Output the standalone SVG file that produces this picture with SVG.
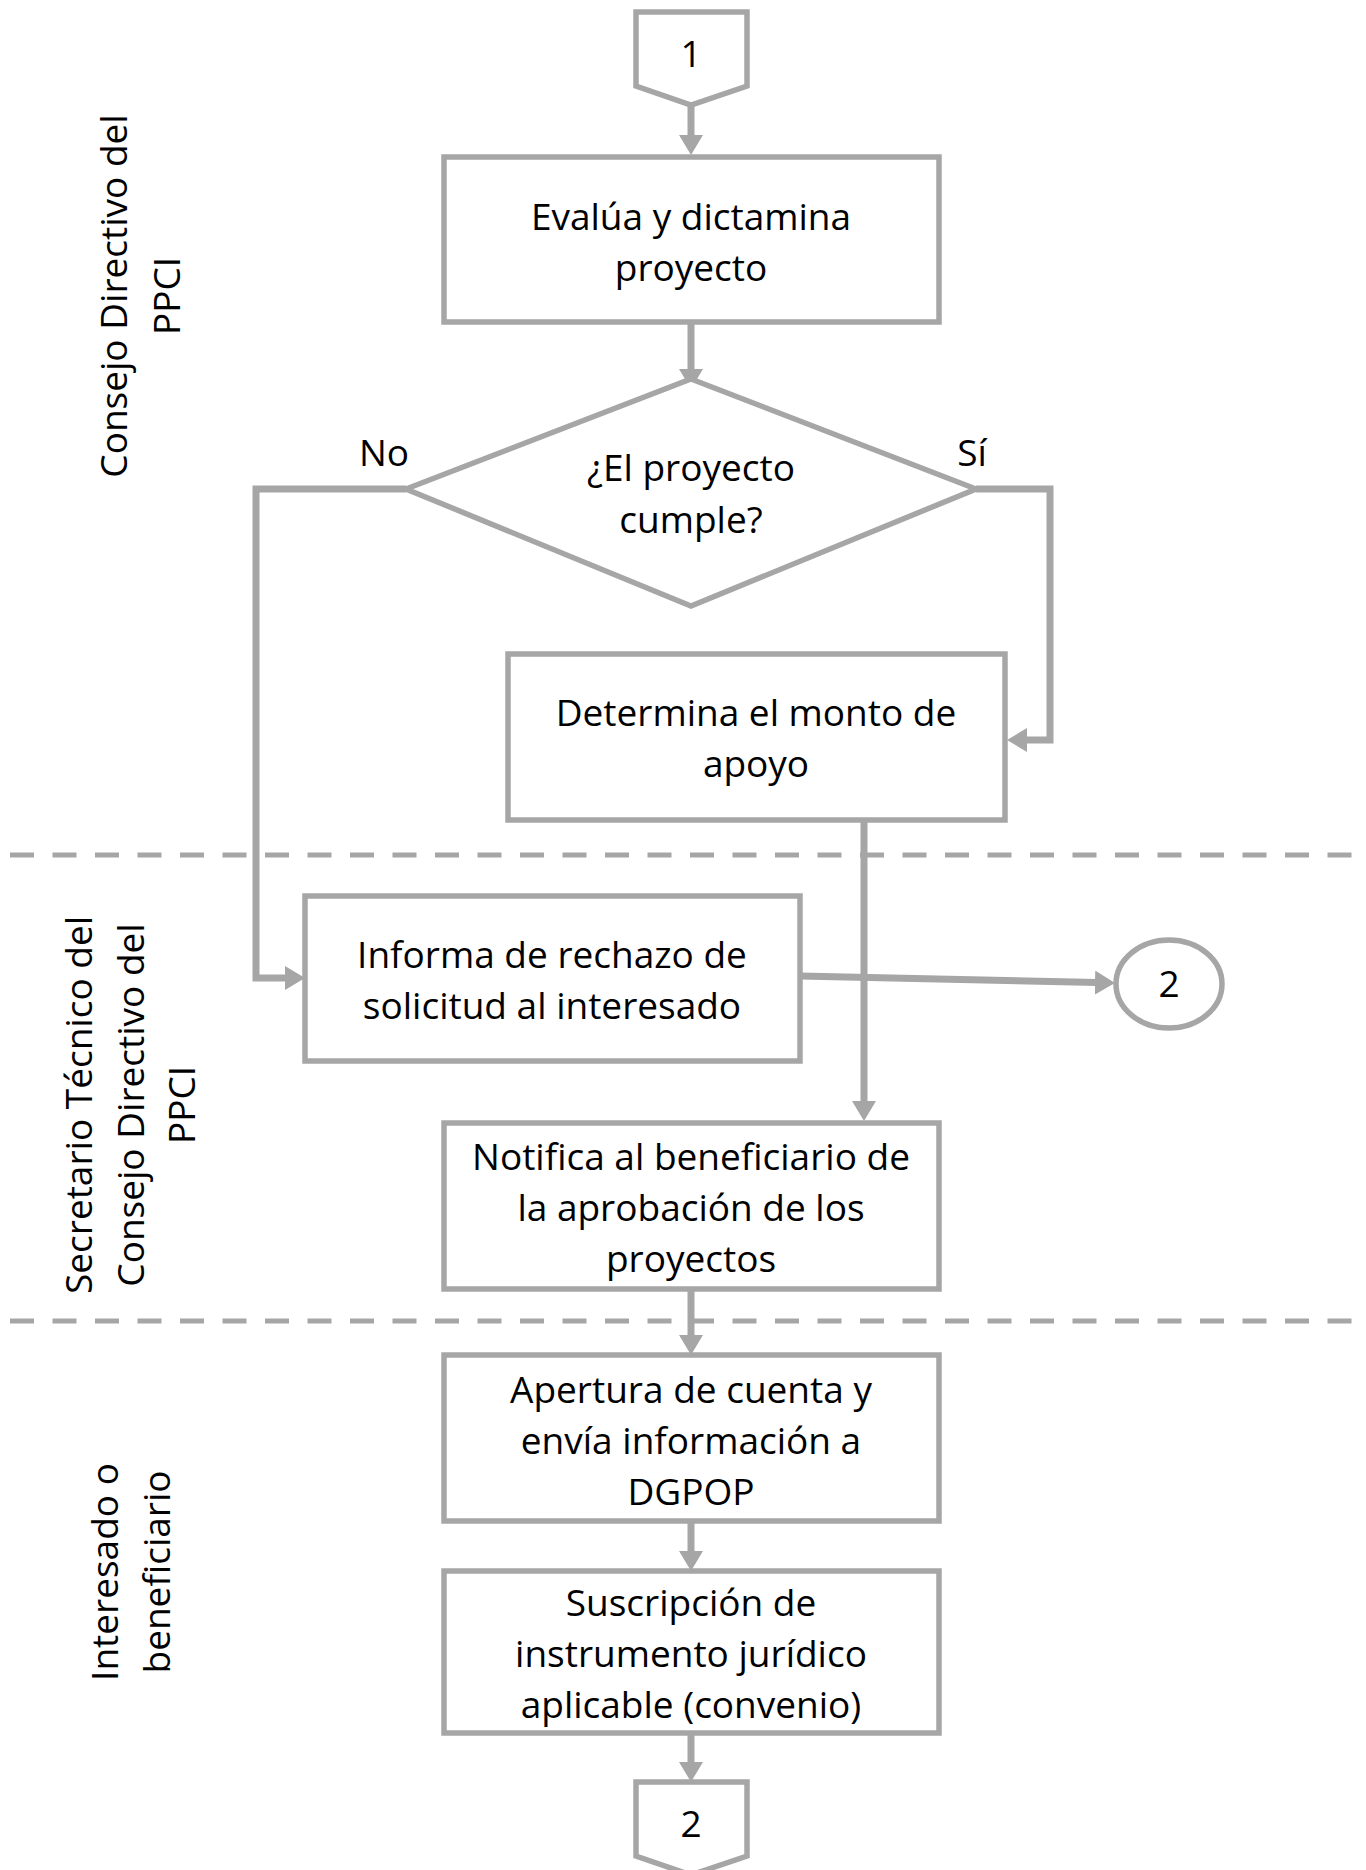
<svg xmlns="http://www.w3.org/2000/svg" width="1366" height="1870" viewBox="0 0 1366 1870">
<style>
.box{fill:#fff;stroke:#a6a6a6;stroke-width:5.5}
.con{fill:none;stroke:#a6a6a6;stroke-width:7;marker-end:url(#arr)}
.lane{fill:none;stroke:#a6a6a6;stroke-width:5;stroke-dasharray:24 18.5}
text{font-family:"Open Sans","Liberation Sans",sans-serif;font-size:37px;fill:#000;text-anchor:middle}
</style>
<defs>
<marker id="arr" markerUnits="userSpaceOnUse" markerWidth="22" markerHeight="24" refX="2" refY="12" orient="auto">
<path d="M0,0 L20,12 L0,24 z" fill="#a6a6a6"/>
</marker>
</defs>
<rect width="1366" height="1870" fill="#fff"/>
<g id="lanes">
<line class="lane" x1="10" y1="855" x2="1356" y2="855"/>
<line class="lane" x1="10" y1="1321" x2="1356" y2="1321"/>
<text transform="translate(127,296) rotate(-90)">Consejo Directivo del<tspan x="0" dy="53">PPCI</tspan></text>
<text transform="translate(92,1105) rotate(-90)">Secretario Técnico del<tspan x="0" dy="51.5">Consejo Directivo del</tspan><tspan x="0" dy="51.5">PPCI</tspan></text>
<text transform="translate(118,1572) rotate(-90)">Interesado o<tspan x="0" dy="52">beneficiario</tspan></text>
</g>
<g id="connectors">
<line class="con" x1="691" y1="105" x2="691" y2="137"/>
<line class="con" x1="691" y1="322" x2="691" y2="371"/>
<polyline class="con" points="976,489 1050,489 1050,740 1025,740"/>
<polyline class="con" points="406,489 256,489 256,978 287,978"/>
<line class="con" x1="864" y1="820" x2="864" y2="1103"/>
<line class="con" x1="800" y1="976" x2="1097" y2="982.6"/>
<line class="con" x1="691" y1="1289" x2="691" y2="1337"/>
<line class="con" x1="691" y1="1521" x2="691" y2="1553"/>
<line class="con" x1="691" y1="1733" x2="691" y2="1764"/>
<text x="384" y="466">No</text>
<text x="972" y="466">Sí</text>
</g>
<g id="start1">
<polygon class="box" stroke-width="6" points="636,12 747,12 747,86 691,105 636,86"/>
<text x="691" y="67">1</text>
</g>
<g id="evalua">
<rect class="box" x="444" y="157" width="495" height="165"/>
<text x="691" y="230">Evalúa y dictamina</text>
<text x="691" y="281">proyecto</text>
</g>
<g id="decision">
<polygon class="box" points="691,379 976,489 691,606 406,489"/>
<text x="691" y="481">¿El proyecto</text>
<text x="691" y="533">cumple?</text>
</g>
<g id="determina">
<rect class="box" x="508" y="654" width="497" height="166"/>
<text x="756" y="726">Determina el monto de</text>
<text x="756" y="777">apoyo</text>
</g>
<g id="informa">
<rect class="box" x="305" y="896" width="495" height="165"/>
<text x="552" y="968">Informa de rechazo de</text>
<text x="552" y="1019">solicitud al interesado</text>
</g>
<g id="conn2">
<ellipse class="box" cx="1169" cy="984" rx="53" ry="44"/>
<text x="1169" y="997">2</text>
</g>
<g id="notifica">
<rect class="box" x="444" y="1123" width="495" height="166"/>
<text x="691" y="1170">Notifica al beneficiario de</text>
<text x="691" y="1221">la aprobación de los</text>
<text x="691" y="1272">proyectos</text>
</g>
<g id="apertura">
<rect class="box" x="444" y="1355" width="495" height="166"/>
<text x="691" y="1403">Apertura de cuenta y</text>
<text x="691" y="1454">envía información a</text>
<text x="691" y="1505">DGPOP</text>
</g>
<g id="suscripcion">
<rect class="box" x="444" y="1571" width="495" height="162"/>
<text x="691" y="1616">Suscripción de</text>
<text x="691" y="1667">instrumento jurídico</text>
<text x="691" y="1718">aplicable (convenio)</text>
</g>
<g id="end2">
<polygon class="box" stroke-width="6" points="636,1782 747,1782 747,1856 691,1875 636,1856"/>
<text x="691" y="1837">2</text>
</g>
</svg>
